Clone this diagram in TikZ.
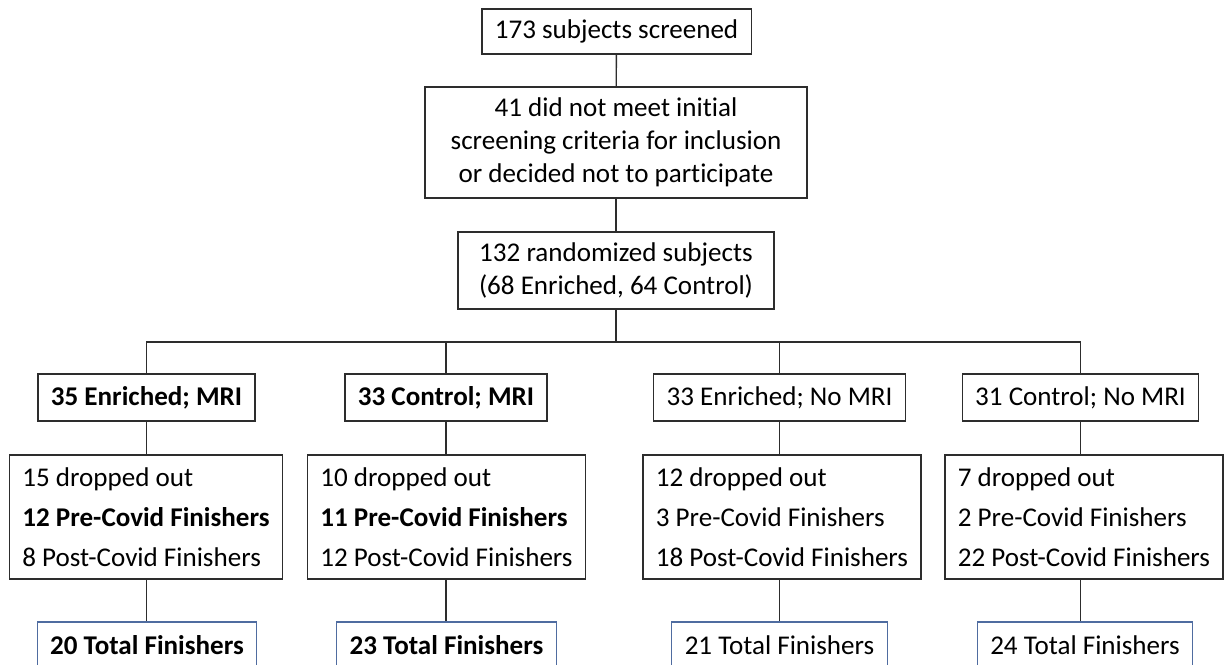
\documentclass[tikz,border=0pt]{standalone}
\usepackage{fontspec}
\setmainfont{Carlito}[Ligatures=NoCommon]
\definecolor{linegray}{RGB}{45,45,45}
\definecolor{totalblue}{RGB}{79,108,160}
\tikzset{
  box/.style={draw=linegray, line width=0.75pt, inner xsep=0.26cm, inner ysep=0pt, align=center, font=\fontsize{15.4}{18.8}\selectfont},
  groupbox/.style={box, minimum height=0.94cm},
  dropbox/.style={box, align=left, minimum height=2.48cm, font=\fontsize{15.4}{22.8}\selectfont},
  totalbox/.style={box, draw=totalblue, minimum height=0.94cm},
  link/.style={draw=linegray, line width=0.75pt}
}
\begin{document}
\begin{tikzpicture}[x=0.02cm, y=-0.02cm]
\pgfmathsetmacro{\rowgroup}{397.5}
\pgfmathsetmacro{\rowdrop}{517}
\pgfmathsetmacro{\rowtotal}{645.5}
\useasboundingbox (0,0) rectangle (1225,664);
\clip (0,0) rectangle (1225,664);
% top of the chart
\node[box, minimum height=0.9cm] (screen) at (616.5,31.5) {173 subjects screened};
\node[box, minimum width=7.64cm, minimum height=2.22cm] (excl) at (616,142.5) {41 did not meet initial\\screening criteria for inclusion\\or decided not to participate};
\node[box, minimum width=6.32cm, minimum height=1.54cm] (rand) at (616,270.5) {132 randomized subjects\\(68 Enriched, 64 Control)};
\coordinate (bus) at (616,342);
% the four arms
\node[groupbox] (g1) at (146.5,\rowgroup) {\textbf{35 Enriched; MRI}};
\node[groupbox] (g2) at (446,\rowgroup) {\textbf{33 Control; MRI}};
\node[groupbox] (g3) at (779.5,\rowgroup) {33 Enriched; No MRI};
\node[groupbox] (g4) at (1080.5,\rowgroup) {31 Control; No MRI};
\node[dropbox] (d1) at (146,\rowdrop) {15 dropped out\\\textbf{12 Pre-Covid Finishers}\\8 Post-Covid Finishers};
\node[dropbox] (d2) at (446.5,\rowdrop) {10 dropped out\\\textbf{11 Pre-Covid Finishers}\\12 Post-Covid Finishers};
\node[dropbox] (d3) at (782,\rowdrop) {12 dropped out\\3 Pre-Covid Finishers\\18 Post-Covid Finishers};
\node[dropbox] (d4) at (1084,\rowdrop) {7 dropped out\\2 Pre-Covid Finishers\\22 Post-Covid Finishers};
\node[totalbox] (t1) at (147,\rowtotal) {\textbf{20 Total Finishers}};
\node[totalbox] (t2) at (446.5,\rowtotal) {\textbf{23 Total Finishers}};
\node[totalbox] (t3) at (779.5,\rowtotal) {21 Total Finishers};
\node[totalbox] (t4) at (1085,\rowtotal) {24 Total Finishers};
% connectors
\draw[link] (screen) -- (excl);
\draw[link] (excl) -- (rand);
\draw[link] (rand) -- (bus);
\draw[link] (g1.north) -- (g1.north |- bus) -- (g4.north |- bus) -- (g4.north);
\draw[link] (g2.north) -- (g2.north |- bus);
\draw[link] (g3.north) -- (g3.north |- bus);
\foreach \i in {1,2,3,4}{
  \draw[link] (g\i.south) -- (g\i.south |- d\i.north);
  \draw[link] (d\i.south -| g\i) -- (t\i.north -| g\i);
}
\end{tikzpicture}
\end{document}
